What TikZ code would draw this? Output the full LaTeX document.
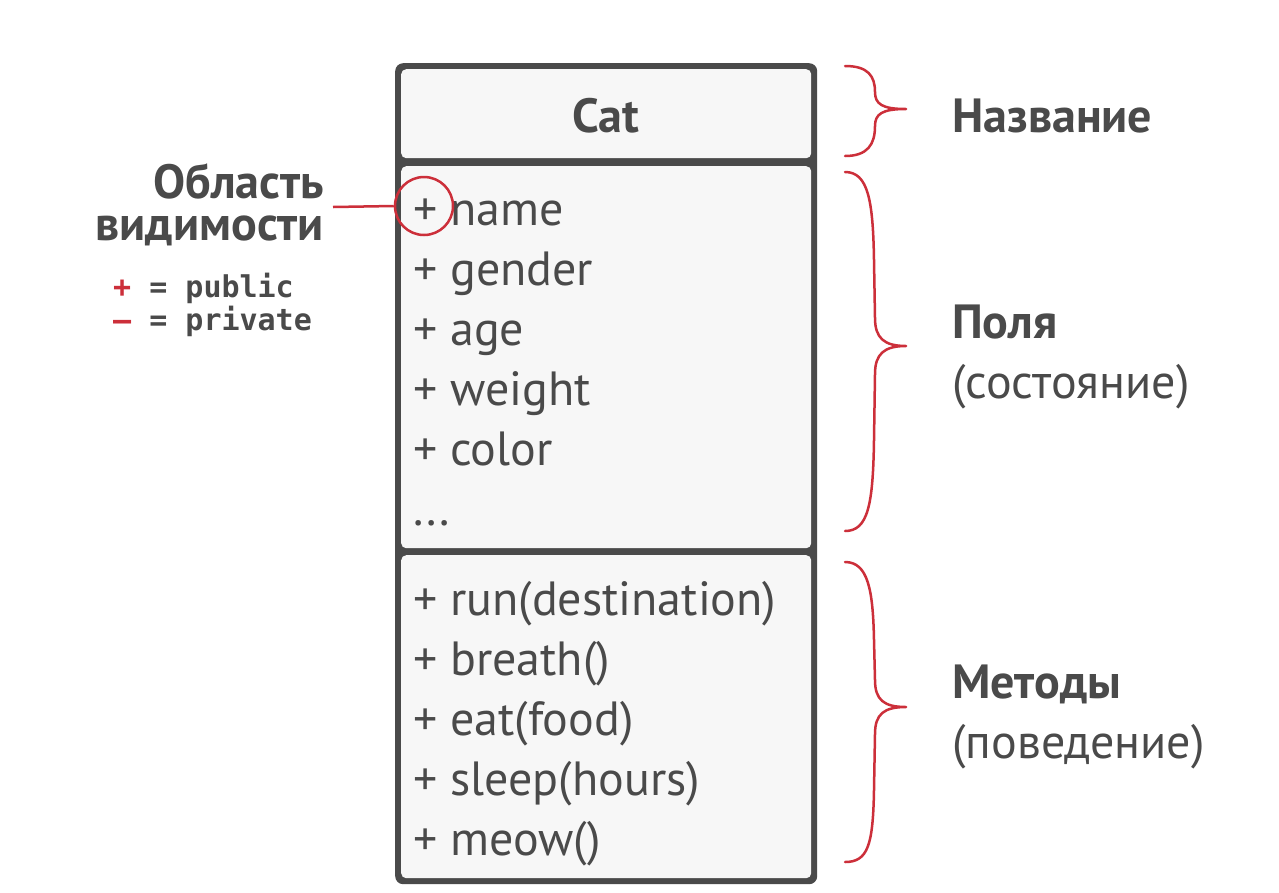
\documentclass[tikz,border=0pt]{standalone}
\usepackage{fontspec}
\setmainfont{PT Sans}
\setmonofont{DejaVu Sans Mono}
\definecolor{ink}{HTML}{4A4A4A}
\definecolor{fillc}{HTML}{F7F7F7}
\definecolor{redc}{HTML}{CC2F3A}
\tikzset{
  outerbox/.style={fill=ink, draw=none, rounded corners=8pt, inner sep=0pt, anchor=north west},
  comp/.style={fill=fillc, draw=none, rounded corners=5pt, inner sep=0pt, anchor=north west, minimum width=410pt},
  item/.style={anchor=base west, inner sep=0pt, text=ink, font=\fontsize{48}{56}\selectfont},
  title/.style={anchor=base west, inner sep=0pt, text=ink, font=\fontsize{48}{56}\selectfont\bfseries},
  sub/.style={anchor=base west, inner sep=0pt, text=ink, font=\fontsize{48}{56}\selectfont},
  mono/.style={anchor=base west, inner sep=0pt, text=ink, font=\fontsize{30}{36}\selectfont\ttfamily\bfseries},
  brace/.style={draw=redc, line width=2.5pt, line cap=round, line join=round},
  redline/.style={draw=redc, line width=2.5pt}
}
\begin{document}
\begin{tikzpicture}[x=1pt,y=-1pt]
\useasboundingbox (0,0) rectangle (1279,892);
\fill[white] (0,0) rectangle (1279,892);
% class box
\node (outer) [outerbox, minimum width=422pt, minimum height=821pt] at (395,63) {};
\node (head) [comp, minimum height=89pt] at (401,69) {};
\node (fields) [comp, minimum height=382pt] at (401,166) {};
\node (methods) [comp, minimum height=323pt] at (401,555) {};
\node (cat) [anchor=base, inner sep=0pt, text=ink, font=\fontsize{48}{56}\selectfont\bfseries] at (606,132) {Cat};
% fields
\node (f1) [item] at (413,225) {+ name};
\node (f2) [item] at (413,285) {+ gender};
\node (f3) [item] at (413,345) {+ age};
\node (f4) [item] at (413,405) {+ weight};
\node (f5) [item] at (413,465) {+ color};
\node (f6) [item] at (413,525) {...};
% methods
\node (m1) [item] at (413,615) {+ run(destination)};
\node (m2) [item] at (413,675) {+ breath()};
\node (m3) [item] at (413,735) {+ eat(food)};
\node (m4) [item] at (413,795) {+ sleep(hours)};
\node (m5) [item] at (413,855) {+ meow()};
% visibility marker
\node (vis) [circle, draw=redc, line width=2.5pt, minimum size=58pt, inner sep=0pt] at (424,206) {};
\coordinate (vl) at (333,207);
\draw[redline] (vl) -- (vis.west);
\node (vt1) [anchor=base east, inner sep=0pt, text=ink, font=\fontsize{48}{56}\selectfont\bfseries] at (324,198) {Область};
\node (vt2) [anchor=base east, inner sep=0pt, text=ink, font=\fontsize{48}{56}\selectfont\bfseries] at (324,240) {видимости};
\node (pub) [mono] at (113,297) {\textcolor{redc}{+} = public};
\node (priv) [mono] at (113,330) {\textcolor{redc}{–} = private};
% braces
\draw[brace] (845,66) .. controls (868,66) and (875,76) .. (875,92)
  .. controls (875,104) and (882,109) .. (906,109)
  .. controls (882,109) and (875,114) .. (875,126)
  .. controls (875,144) and (868,156) .. (845,156);
\draw[brace] (845,172) .. controls (868,172) and (873,200) .. (874,260)
  -- (875,318) .. controls (875,338) and (884,346) .. (906,346)
  .. controls (884,346) and (875,354) .. (875,374)
  -- (874,440) .. controls (873,505) and (868,531) .. (845,531);
\draw[brace] (845,562) .. controls (868,562) and (873,590) .. (874,640)
  -- (875,680) .. controls (875,700) and (884,707) .. (906,707)
  .. controls (884,707) and (875,714) .. (875,734)
  -- (874,790) .. controls (873,845) and (868,862) .. (845,862);
% labels
\node (l1) [title] at (952,132) {Название};
\node (l2) [title] at (952,338) {Поля};
\node (l2s) [sub] at (952,398) {(состояние)};
\node (l3) [title] at (952,698) {Методы};
\node (l3s) [sub] at (952,758) {(поведение)};
\end{tikzpicture}
\end{document}
